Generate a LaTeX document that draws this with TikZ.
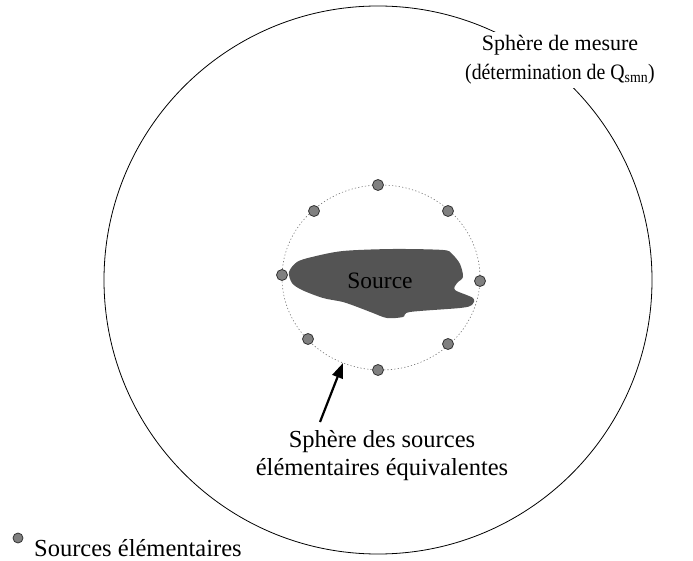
\documentclass[tikz,border=0pt]{standalone}
\usepackage{fontspec}
\setmainfont{Liberation Serif}
\usetikzlibrary{arrows.meta}
\begin{document}
\begin{tikzpicture}[x=1pt,y=-1pt,
  lbl/.style={font=\fontsize{22}{29}\selectfont, align=center, inner sep=0pt},
  big/.style={font=\fontsize{24.5}{28}\selectfont},
  elem/.style={circle, fill=black!50, draw=black!80, line width=0.8pt, minimum size=11pt, inner sep=0pt}]
\useasboundingbox (0,0) rectangle (693,561);
\node[circle, draw, line width=0.8pt, minimum size=548pt, inner sep=0pt] (mes) at (378,280) {};
\draw[black!55, line width=0.6pt, dash pattern=on 1.2pt off 2.2pt] (381,277.5) ellipse [x radius=99, y radius=92.5];
\fill[black!67] plot[smooth cycle, tension=0.5] coordinates {
 (289,272) (297,262) (312,257) (343,251) (393,249) (443,250) (452,254) (460,264) (463,277)
 (457,283) (455,290) (473,298) (472,305) (460,308) (410,312) (403,317) (387,318)
 (373,313) (360,308) (343,302) (323,298) (302,290) (292,283)};
\node[lbl, font=\fontsize{23.5}{28}\selectfont] (src) at (380,281) {Source};
\node[elem] (e1) at (378,185) {};
\node[elem] (e2) at (448,211) {};
\node[elem] (e3) at (480,281) {};
\node[elem] (e4) at (448,344) {};
\node[elem] (e5) at (378,370) {};
\node[elem] (e6) at (308,339) {};
\node[elem] (e7) at (282,275) {};
\node[elem] (e8) at (314,211) {};
\node[lbl, fill=white, inner xsep=3pt, inner ysep=4pt] (mesl) at (560,60) {Sphère de mesure\\\scalebox{0.9}[1]{(détermination de Q\textsubscript{smn})}};
\node[lbl, big] (eq) at (382,456) {Sphère des sources\\élémentaires équivalentes};
\coordinate (tail) at (320,422);
\coordinate (head) at (343,363);
\draw[line width=2.2pt, -{Triangle[length=15pt,width=11pt]}] (tail) -- (head);
\node[elem, minimum size=10pt] (leg) at (18,538) {};
\node[lbl, big, anchor=west] (legl) at (34,548) {Sources élémentaires};
\end{tikzpicture}
\end{document}
